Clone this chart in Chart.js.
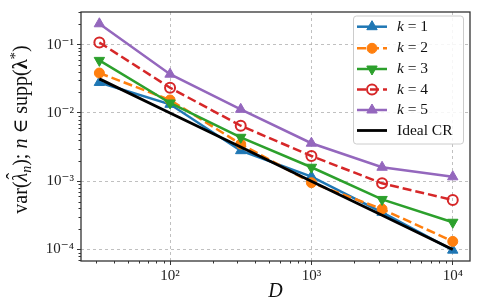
<!DOCTYPE html>
<html><head><meta charset="utf-8">
<script src="https://cdn.jsdelivr.net/npm/chart.js@4/dist/chart.umd.min.js"></script>
<style>html,body{margin:0;padding:0;background:#fff}#wrap{width:479px;height:304px;position:relative}</style>
</head><body><div id="wrap"><canvas id="c" width="479" height="304"></canvas></div>
<script>
const D = [31.62, 100, 316.2, 1000, 3162, 10000];
const k1 = [0.028, 0.0134, 0.0028, 0.00117, 0.00035, 0.0000975];
const k2 = [0.0385, 0.0155, 0.0035, 0.00095, 0.00039, 0.000131];
const k3 = [0.059, 0.014, 0.0044, 0.0016, 0.00054, 0.00025];
const k4 = [0.108, 0.0234, 0.0065, 0.00234, 0.00093, 0.00053];
const k5 = [0.203, 0.037, 0.0113, 0.0036, 0.0016, 0.00116];
const idealCR = [0.0316, 0.01, 0.00316, 0.001, 0.000316, 0.0001];
const seriesNames = ['1', '2', '3', '4', '5'];
const idealName = 'Ideal CR';
const xTitle = 'D';
// y title pieces: [text, style, sizeFactor, baselineShift, hat]
const yTitleParts = [
  ['var(', 'normal', 1, 0, false],
  ['λ', 'italic', 1, 0, true],
  ['n', 'italic', 0.7, 4, false],
  ['); ', 'normal', 1, 0, false],
  ['n', 'italic', 1, 0, false],
  [' \u2208 supp(', 'normal', 1, 0, false],
  ['λ', 'bold', 1, 0, false],
  ['*', 'normal', 0.75, -7, false],
  [')', 'normal', 1, 0, false]
];

const SERIF = '"Liberation Serif", "DejaVu Serif", serif';
const colors = ['#1f77b4', '#ff7f0e', '#2ca02c', '#d62728', '#9467bd'];
const series = [k1, k2, k3, k4, k5];
const styles = [
  {pointStyle: 'triangle', rot: 0, fill: true, dash: [], r: 6},
  {pointStyle: 'circle', rot: 0, fill: true, dash: [9, 4], r: 5},
  {pointStyle: 'triangle', rot: 180, fill: true, dash: [], r: 6},
  {pointStyle: 'circle', rot: 0, fill: false, dash: [9, 4], r: 5},
  {pointStyle: 'triangle', rot: 0, fill: true, dash: [], r: 6}
];

const isMajor = v => Math.abs(Math.log10(v) - Math.round(Math.log10(v))) < 1e-6;
const supMap = {'-': '\u207B', '0': '\u2070', '1': '\u00B9', '2': '\u00B2', '3': '\u00B3', '4': '\u2074', '5': '\u2075'};
const fmt = v => isMajor(v) ? '10' + String(Math.round(Math.log10(v))).split('').map(c => supMap[c]).join('') : '';

function logTicks(min, max) {
  const out = [];
  for (let e = Math.floor(Math.log10(min)); e <= Math.ceil(Math.log10(max)); e++) {
    for (let m = 1; m <= 9; m++) {
      const v = m * Math.pow(10, e);
      if (v >= min * 0.9999 && v <= max * 1.0001) out.push({value: v, major: m === 1});
    }
  }
  return out;
}

const xMin = Math.pow(10, 1.37), xMax = Math.pow(10, 4.122);
const yMin = Math.pow(10, -4.17), yMax = Math.pow(10, -0.52);

const datasets = series.map((s, i) => ({
  label: 'k = ' + seriesNames[i],
  data: D.map((d, j) => ({x: d, y: s[j]})),
  borderColor: colors[i],
  backgroundColor: styles[i].fill ? colors[i] : 'rgba(0,0,0,0)',
  pointBackgroundColor: styles[i].fill ? colors[i] : 'rgba(0,0,0,0)',
  pointBorderColor: colors[i],
  pointBorderWidth: styles[i].fill ? 1 : 2,
  pointStyle: styles[i].pointStyle,
  pointRotation: styles[i].rot,
  pointRadius: styles[i].r,
  borderWidth: 2.5,
  borderDash: styles[i].dash,
  order: 6 - i
}));
datasets.push({
  label: idealName,
  data: D.map((d, j) => ({x: d, y: idealCR[j]})),
  borderColor: '#000',
  backgroundColor: '#000',
  borderWidth: 2.8,
  pointRadius: 0,
  order: 0
});

function fontFor(style, size) {
  if (style === 'italic') return 'italic ' + size + 'px ' + SERIF;
  if (style === 'bold') return 'bold ' + size + 'px ' + SERIF;
  return size + 'px ' + SERIF;
}

const framePlugin = {
  id: 'frame',
  afterDraw(chart) {
    const ctx = chart.ctx, a = chart.chartArea;
    ctx.save();
    // minor ticks
    ctx.strokeStyle = '#333';
    ctx.lineWidth = 1;
    const xs = chart.scales.x, ys = chart.scales.y;
    xs.ticks.forEach(t => {
      if (!isMajor(t.value)) {
        const px = Math.round(xs.getPixelForValue(t.value)) + 0.5;
        ctx.beginPath(); ctx.moveTo(px, a.bottom); ctx.lineTo(px, a.bottom + 2.5); ctx.stroke();
      }
    });
    ys.ticks.forEach(t => {
      if (!isMajor(t.value)) {
        const py = Math.round(ys.getPixelForValue(t.value)) + 0.5;
        ctx.beginPath(); ctx.moveTo(a.left, py); ctx.lineTo(a.left - 2.5, py); ctx.stroke();
      }
    });
    // frame
    ctx.strokeStyle = '#333';
    ctx.lineWidth = 1.3;
    ctx.strokeRect(a.left, a.top, a.right - a.left, a.bottom - a.top);

    // y title (rotated, mixed styles)
    const base = 20;
    ctx.save();
    ctx.fillStyle = '#111';
    ctx.textBaseline = 'alphabetic';
    ctx.textAlign = 'left';
    let total = 0;
    yTitleParts.forEach(p => { ctx.font = fontFor(p[1], base * p[2]); total += ctx.measureText(p[0]).width; });
    ctx.translate(27, (a.top + a.bottom) / 2 - 7);
    ctx.rotate(-Math.PI / 2);
    let cx = -total / 2;
    yTitleParts.forEach(p => {
      ctx.font = fontFor(p[1], base * p[2]);
      const w = ctx.measureText(p[0]).width;
      ctx.fillText(p[0], cx, p[3]);
      if (p[4]) {
        ctx.font = base + 'px ' + SERIF;
        ctx.textAlign = 'center';
        ctx.fillText('\u02C6', cx + w / 2 + 1, -6);
        ctx.textAlign = 'left';
      }
      cx += w;
    });
    ctx.restore();

    // legend
    const bx = 353, by = 15.5, bw = 110, bh = 128;
    ctx.fillStyle = 'rgba(255,255,255,0.85)';
    ctx.strokeStyle = '#cccccc';
    ctx.lineWidth = 1;
    ctx.beginPath();
    ctx.roundRect(bx + 0.5, by + 0.5, bw, bh, 3);
    ctx.fill(); ctx.stroke();
    const rowY = [26.7, 48.3, 69, 89.5, 110, 130.5];
    const lx0 = 357, lx1 = 387, tx = 397;
    chart.data.datasets.forEach((ds, i) => {
      const y = rowY[i];
      ctx.save();
      ctx.strokeStyle = ds.borderColor;
      ctx.lineWidth = ds.borderWidth;
      ctx.setLineDash(ds.borderDash || []);
      ctx.beginPath(); ctx.moveTo(lx0, y); ctx.lineTo(lx1, y); ctx.stroke();
      ctx.restore();
      if (ds.pointRadius > 0) {
        ctx.save();
        ctx.fillStyle = ds.pointBackgroundColor;
        ctx.strokeStyle = ds.pointBorderColor;
        ctx.lineWidth = ds.pointBorderWidth;
        Chart.helpers.drawPoint(ctx, {pointStyle: ds.pointStyle, rotation: ds.pointRotation, radius: ds.pointRadius, borderWidth: ds.pointBorderWidth}, (lx0 + lx1) / 2, y);
        ctx.restore();
      }
      ctx.fillStyle = '#111';
      ctx.textBaseline = 'middle';
      ctx.textAlign = 'left';
      if (i < 5) {
        ctx.font = 'italic 15.5px ' + SERIF;
        ctx.fillText('k', tx, y);
        const w = ctx.measureText('k').width;
        ctx.font = '15.5px ' + SERIF;
        ctx.fillText(' = ' + seriesNames[i], tx + w, y);
      } else {
        ctx.font = '15.5px ' + SERIF;
        ctx.fillText(ds.label, tx, y);
      }
    });
    ctx.restore();
  }
};

new Chart(document.getElementById('c'), {
  type: 'line',
  data: {datasets},
  plugins: [framePlugin],
  options: {
    responsive: false,
    animation: false,
    devicePixelRatio: 1,
    layout: {padding: {top: 8, right: 9, left: 0, bottom: 0}},
    plugins: {legend: {display: false}, tooltip: {enabled: false}},
    elements: {line: {tension: 0}},
    scales: {
      x: {
        type: 'logarithmic', min: xMin, max: xMax,
        afterBuildTicks: s => { s.ticks = logTicks(xMin, xMax); },
        afterFit: s => { s.height = 43; },
        ticks: {autoSkip: false, maxRotation: 0, padding: 2, color: '#222',
          font: {family: SERIF, size: 15}, callback: v => fmt(v)},
        grid: {
          color: c => (c.tick && isMajor(c.tick.value)) ? '#b0b0b0' : 'rgba(0,0,0,0)',
          lineWidth: 0.8,
          tickColor: c => (c.tick && isMajor(c.tick.value)) ? '#333' : 'rgba(0,0,0,0)',
          tickLength: 4, tickWidth: 1, tickBorderDash: []
        },
        border: {display: false, dash: [3, 3]},
        title: {display: true, text: xTitle, color: '#111',
          font: {family: SERIF, size: 20, style: 'italic'}, padding: {top: 0, bottom: 0}}
      },
      y: {
        type: 'logarithmic', min: yMin, max: yMax,
        afterBuildTicks: s => { s.ticks = logTicks(yMin, yMax); },
        afterFit: s => { s.width = 81; },
        ticks: {autoSkip: false, padding: 3, color: '#222',
          font: {family: SERIF, size: 15}, callback: v => fmt(v)},
        grid: {
          color: c => (c.tick && isMajor(c.tick.value)) ? '#b0b0b0' : 'rgba(0,0,0,0)',
          lineWidth: 0.8,
          tickColor: c => (c.tick && isMajor(c.tick.value)) ? '#333' : 'rgba(0,0,0,0)',
          tickLength: 4, tickWidth: 1, tickBorderDash: []
        },
        border: {display: false, dash: [3, 3]},
        title: {display: false}
      }
    }
  }
});
</script></body></html>
